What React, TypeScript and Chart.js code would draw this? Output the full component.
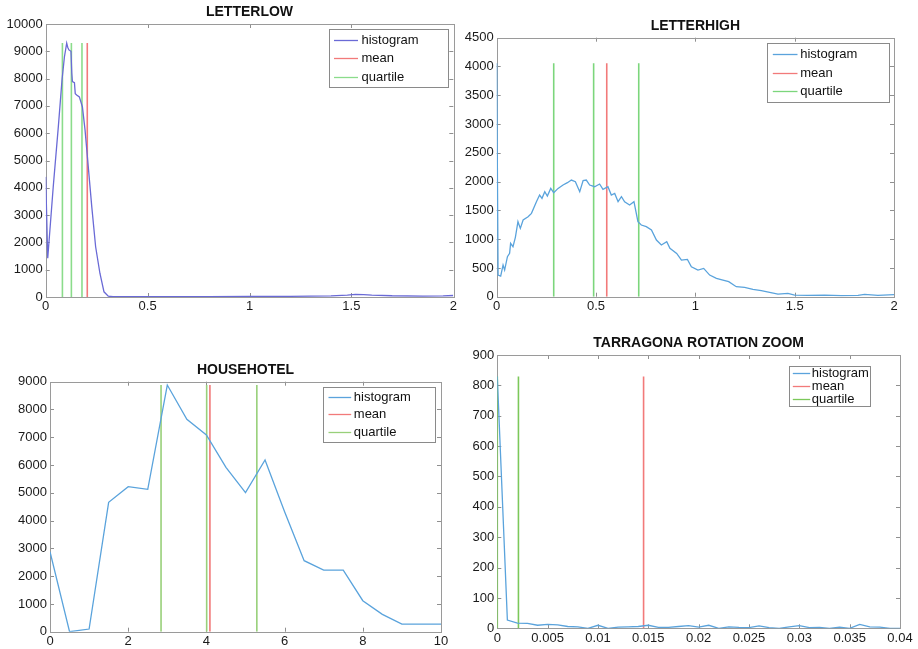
import React, { useEffect, useRef } from "react";
import { Chart, registerables } from "chart.js";

Chart.register(...registerables);

// ---------- LETTERLOW ----------
const LOW_X = [0, 0.01, 0.037, 0.062, 0.08, 0.092, 0.103, 0.108, 0.114, 0.124, 0.128, 0.131, 0.141, 0.145, 0.152, 0.165, 0.18, 0.193, 0.206, 0.226, 0.245, 0.266, 0.286, 0.307, 0.33, 0.5, 0.8, 1.0, 1.2, 1.4, 1.48, 1.52, 1.56, 1.6, 1.7, 1.85, 1.95, 2.0];
const LOW_Y = [4400, 1420, 4040, 6240, 7950, 8800, 9300, 9150, 9050, 9000, 8200, 7890, 7850, 7450, 7400, 7330, 6970, 6120, 5020, 3310, 1840, 870, 190, 30, 10, 10, 15, 20, 25, 40, 70, 95, 90, 70, 45, 35, 40, 55];
const LOW_MEAN = [0.204];
const LOW_QUARTILES = [0.082, 0.126, 0.178];
const LOW_LINE_TOP = 9300;
const LOW_XTICKS = [0, 0.5, 1, 1.5, 2];
const LOW_YTICKS = [0, 1000, 2000, 3000, 4000, 5000, 6000, 7000, 8000, 9000, 10000];

// ---------- LETTERHIGH ----------
const HIGH_X = [0, 0.007, 0.02, 0.032, 0.04, 0.054, 0.065, 0.07, 0.082, 0.094, 0.107, 0.119, 0.133, 0.158, 0.175, 0.2, 0.216, 0.228, 0.242, 0.255, 0.272, 0.287, 0.309, 0.334, 0.356, 0.376, 0.396, 0.418, 0.435, 0.451, 0.468, 0.493, 0.518, 0.535, 0.56, 0.577, 0.594, 0.611, 0.628, 0.644, 0.669, 0.691, 0.711, 0.728, 0.753, 0.779, 0.804, 0.829, 0.856, 0.872, 0.906, 0.93, 0.96, 0.98, 1.013, 1.042, 1.072, 1.106, 1.139, 1.168, 1.206, 1.248, 1.29, 1.332, 1.374, 1.416, 1.466, 1.5, 1.567, 1.651, 1.735, 1.819, 1.852, 1.919, 2.0];
const HIGH_Y = [4055, 376, 359, 550, 463, 695, 753, 927, 869, 1031, 1303, 1187, 1332, 1390, 1448, 1650, 1766, 1709, 1824, 1749, 1882, 1807, 1882, 1940, 1981, 2027, 1998, 1824, 2016, 2027, 1940, 1911, 1958, 1865, 1911, 1766, 1795, 1650, 1737, 1650, 1592, 1650, 1303, 1245, 1216, 1158, 985, 898, 956, 840, 753, 637, 649, 521, 463, 492, 376, 319, 290, 261, 174, 162, 127, 104, 75, 46, 58, 29, 23, 29, 17, 23, 40, 23, 35];
const HIGH_MEAN = [0.554];
const HIGH_QUARTILES = [0.287, 0.488, 0.715];
const HIGH_LINE_TOP = 4055;
const HIGH_XTICKS = [0, 0.5, 1, 1.5, 2];
const HIGH_YTICKS = [0, 500, 1000, 1500, 2000, 2500, 3000, 3500, 4000, 4500];

// ---------- HOUSEHOTEL ----------
const HOUSE_X = [0, 0.5, 1, 1.5, 2, 2.5, 3, 3.5, 4, 4.5, 5, 5.5, 6, 6.5, 7, 7.5, 8, 8.5, 9, 9.5, 10];
const HOUSE_Y = [2880, 0, 96, 4656, 5220, 5124, 8880, 7644, 7080, 5916, 5004, 6180, 4320, 2556, 2220, 2220, 1116, 624, 276, 276, 276];
const HOUSE_MEAN = [4.09];
const HOUSE_QUARTILES = [2.84, 4.007, 5.29];
const HOUSE_LINE_TOP = 8880;
const HOUSE_XTICKS = [0, 2, 4, 6, 8, 10];
const HOUSE_YTICKS = [0, 1000, 2000, 3000, 4000, 5000, 6000, 7000, 8000, 9000];

// ---------- TARRAGONA ROTATION ZOOM ----------
const TARR_X = [0, 0.001, 0.002, 0.003, 0.004, 0.005, 0.006, 0.007, 0.008, 0.009, 0.01, 0.011, 0.012, 0.013, 0.014, 0.015, 0.016, 0.017, 0.018, 0.019, 0.02, 0.021, 0.022, 0.023, 0.024, 0.025, 0.026, 0.027, 0.028, 0.029, 0.03, 0.031, 0.032, 0.033, 0.034, 0.035, 0.036, 0.037, 0.038, 0.039, 0.04];
const TARR_Y = [829, 27, 17, 16, 10, 13, 11, 6, 5, 0, 10, 0, 4, 5, 6, 10, 3, 3, 6, 9, 4, 10, 0, 5, 3, 2, 8, 2, 0, 5, 9, 2, 3, 0, 4, 0, 13, 5, 4, 0, 0];
const TARR_MEAN = [0.01453];
const TARR_QUARTILES = [0, 0.0021];
const TARR_LINE_TOP = 829;
const TARR_XTICKS = [0, 0.005, 0.01, 0.015, 0.02, 0.025, 0.03, 0.035, 0.04];
const TARR_YTICKS = [0, 100, 200, 300, 400, 500, 600, 700, 800, 900];

const LEGEND_LABELS = ["histogram", "mean", "quartile"];
const FONT = "'Liberation Sans', Arial, Helvetica, sans-serif";
const RED = "#f27a7a";

const PANELS = [
  {
    title: "LETTERLOW",
    box: { left: 0, top: 0, width: 459, height: 322 },
    plot: { l: 45.7, r: 453.3, t: 24, b: 297 },
    xs: LOW_X, ys: LOW_Y, mean: LOW_MEAN, quart: LOW_QUARTILES, lineTop: LOW_LINE_TOP,
    xTicks: LOW_XTICKS, yTicks: LOW_YTICKS,
    histColor: "#6a6ad6", quartColor: "#8bdc8b",
    legend: { insetR: 5.3, insetT: 5, w: 119, h: 58, sampleStart: 4.5, sampleLen: 24, textOff: 32, firstRow: 10.3, rowGap: 18.5 },
  },
  {
    title: "LETTERHIGH",
    box: { left: 459, top: 0, width: 459, height: 322 },
    plot: { l: 496.7, r: 894, t: 37.7, b: 296.7 },
    xs: HIGH_X, ys: HIGH_Y, mean: HIGH_MEAN, quart: HIGH_QUARTILES, lineTop: HIGH_LINE_TOP,
    xTicks: HIGH_XTICKS, yTicks: HIGH_YTICKS,
    histColor: "#5aa3dc", quartColor: "#7cd67c",
    legend: { insetR: 5, insetT: 5.3, w: 122, h: 59, sampleStart: 5.3, sampleLen: 24.7, textOff: 32.7, firstRow: 10.3, rowGap: 18.7 },
  },
  {
    title: "HOUSEHOTEL",
    box: { left: 0, top: 322, width: 459, height: 327 },
    plot: { l: 50, r: 441, t: 381.7, b: 631.7 },
    xs: HOUSE_X, ys: HOUSE_Y, mean: HOUSE_MEAN, quart: HOUSE_QUARTILES, lineTop: HOUSE_LINE_TOP,
    xTicks: HOUSE_XTICKS, yTicks: HOUSE_YTICKS,
    histColor: "#5aa3dc", quartColor: "#98d07a",
    legend: { insetR: 6, insetT: 5.3, w: 112, h: 55, sampleStart: 5, sampleLen: 22.7, textOff: 30.3, firstRow: 9.3, rowGap: 17.5 },
  },
  {
    title: "TARRAGONA ROTATION ZOOM",
    box: { left: 459, top: 322, width: 459, height: 327 },
    plot: { l: 497.3, r: 900, t: 355, b: 628.3 },
    xs: TARR_X, ys: TARR_Y, mean: TARR_MEAN, quart: TARR_QUARTILES, lineTop: TARR_LINE_TOP,
    xTicks: TARR_XTICKS, yTicks: TARR_YTICKS,
    histColor: "#5aa3dc", quartColor: "#7cc85a",
    legend: { insetR: 30.3, insetT: 11, w: 80.7, h: 40.3, sampleStart: 3.3, sampleLen: 17.4, textOff: 22.3, firstRow: 6.7, rowGap: 13 },
  },
];

const fmt = (v: number) => String(Number(Number(v).toPrecision(10)));

function Panel({ spec }: { spec: any }) {
  const ref = useRef<HTMLCanvasElement | null>(null);
  useEffect(() => {
    const s = spec;
    const vline = (xs: number[]) => {
      const pts: any[] = [];
      xs.forEach((x) => {
        pts.push({ x, y: 0 }, { x, y: s.lineTop }, { x, y: null });
      });
      return pts;
    };
    const colors = [s.histColor, RED, s.quartColor];
    const framePlugin = {
      id: "frame" + s.title.replace(/\s/g, ""),
      beforeDatasetsDraw(chart: any) {
        const { ctx, chartArea } = chart;
        const { left, right, top, bottom } = chartArea;
        const xs = chart.scales.x;
        const ys = chart.scales.y;
        ctx.save();
        ctx.strokeStyle = "#8f8f8f";
        ctx.lineWidth = 1;
        ctx.beginPath();
        const tl = 4;
        s.xTicks.forEach((v: number) => {
          const px = Math.round(xs.getPixelForValue(v)) + 0.5;
          if (px < left + 2 || px > right - 2) return;
          ctx.moveTo(px, bottom);
          ctx.lineTo(px, bottom - tl);
          ctx.moveTo(px, top);
          ctx.lineTo(px, top + tl);
        });
        s.yTicks.forEach((v: number) => {
          const py = Math.round(ys.getPixelForValue(v)) + 0.5;
          if (py < top + 2 || py > bottom - 2) return;
          ctx.moveTo(left, py);
          ctx.lineTo(left + tl, py);
          ctx.moveTo(right, py);
          ctx.lineTo(right - tl, py);
        });
        ctx.stroke();
        ctx.strokeStyle = "#9a9a9a";
        ctx.strokeRect(Math.round(left) + 0.5, Math.round(top) + 0.5, Math.round(right - left), Math.round(bottom - top));
        ctx.restore();
      },
      afterDraw(chart: any) {
        const { ctx, chartArea } = chart;
        const { left, right, top } = chartArea;
        ctx.save();
        ctx.fillStyle = "#111";
        ctx.font = "bold 14px " + FONT;
        ctx.textAlign = "center";
        ctx.textBaseline = "middle";
        ctx.fillText(s.title, (left + right) / 2, top - 12);
        const L = s.legend;
        const bx = Math.round(right - L.insetR - L.w) + 0.5;
        const by = Math.round(top + L.insetT) + 0.5;
        ctx.fillStyle = "#ffffff";
        ctx.fillRect(bx, by, Math.round(L.w), Math.round(L.h));
        ctx.strokeStyle = "#8a8a8a";
        ctx.lineWidth = 1;
        ctx.strokeRect(bx, by, Math.round(L.w), Math.round(L.h));
        ctx.font = "13px " + FONT;
        ctx.textAlign = "left";
        ctx.textBaseline = "middle";
        chart.data.datasets.forEach((ds: any, i: number) => {
          const yy = by + L.firstRow + i * L.rowGap;
          ctx.strokeStyle = colors[i];
          ctx.lineWidth = 1.3;
          ctx.beginPath();
          ctx.moveTo(bx + L.sampleStart, Math.round(yy) + 0.5);
          ctx.lineTo(bx + L.sampleStart + L.sampleLen, Math.round(yy) + 0.5);
          ctx.stroke();
          ctx.fillStyle = "#111";
          ctx.fillText(ds.label, bx + L.textOff, yy + 0.5);
        });
        ctx.restore();
      },
    };
    const tickFont = { family: FONT, size: 13 };
    const chart = new Chart(ref.current as HTMLCanvasElement, {
      type: "line",
      data: {
        datasets: [
          { label: LEGEND_LABELS[0], data: s.xs.map((x: number, i: number) => ({ x, y: s.ys[i] })), borderColor: s.histColor, borderWidth: 1.3 },
          { label: LEGEND_LABELS[1], data: vline(s.mean), borderColor: RED, borderWidth: 1.6 },
          { label: LEGEND_LABELS[2], data: vline(s.quart), borderColor: s.quartColor, borderWidth: 1.6 },
        ],
      },
      options: {
        responsive: false,
        maintainAspectRatio: false,
        animation: false,
        events: [],
        spanGaps: false,
        elements: { point: { radius: 0, hoverRadius: 0 }, line: { tension: 0 } },
        layout: {
          padding: {
            top: s.plot.t - s.box.top,
            right: s.box.left + s.box.width - s.plot.r,
            left: 0,
            bottom: 0,
          },
        },
        plugins: { legend: { display: false }, title: { display: false }, tooltip: { enabled: false } },
        scales: {
          x: {
            type: "linear",
            min: s.xTicks[0],
            max: s.xTicks[s.xTicks.length - 1],
            grid: { display: false, drawTicks: false },
            border: { display: false },
            ticks: { font: tickFont, color: "#1a1a1a", padding: 2, maxRotation: 0, autoSkip: false, callback: (v: any) => fmt(v) },
            afterBuildTicks: (sc: any) => {
              sc.ticks = s.xTicks.map((v: number) => ({ value: v }));
            },
            afterFit: (sc: any) => {
              sc.height = s.box.top + s.box.height - s.plot.b;
            },
          },
          y: {
            type: "linear",
            min: s.yTicks[0],
            max: s.yTicks[s.yTicks.length - 1],
            grid: { display: false, drawTicks: false },
            border: { display: false },
            ticks: { font: tickFont, color: "#1a1a1a", padding: 3, autoSkip: false, callback: (v: any) => fmt(v) },
            afterBuildTicks: (sc: any) => {
              sc.ticks = s.yTicks.map((v: number) => ({ value: v }));
            },
            afterFit: (sc: any) => {
              sc.width = s.plot.l - s.box.left;
            },
          },
        },
      } as any,
      plugins: [framePlugin],
    });
    return () => chart.destroy();
  }, [spec]);
  return (
    <canvas
      ref={ref}
      width={spec.box.width}
      height={spec.box.height}
      style={{ position: "absolute", left: spec.box.left, top: spec.box.top, width: spec.box.width, height: spec.box.height }}
    />
  );
}

export default function App() {
  return (
    <div style={{ position: "absolute", left: 0, top: 0, width: 918, height: 649, background: "#ffffff", overflow: "hidden" }}>
      {PANELS.map((p) => (
        <Panel key={p.title} spec={p} />
      ))}
    </div>
  );
}
